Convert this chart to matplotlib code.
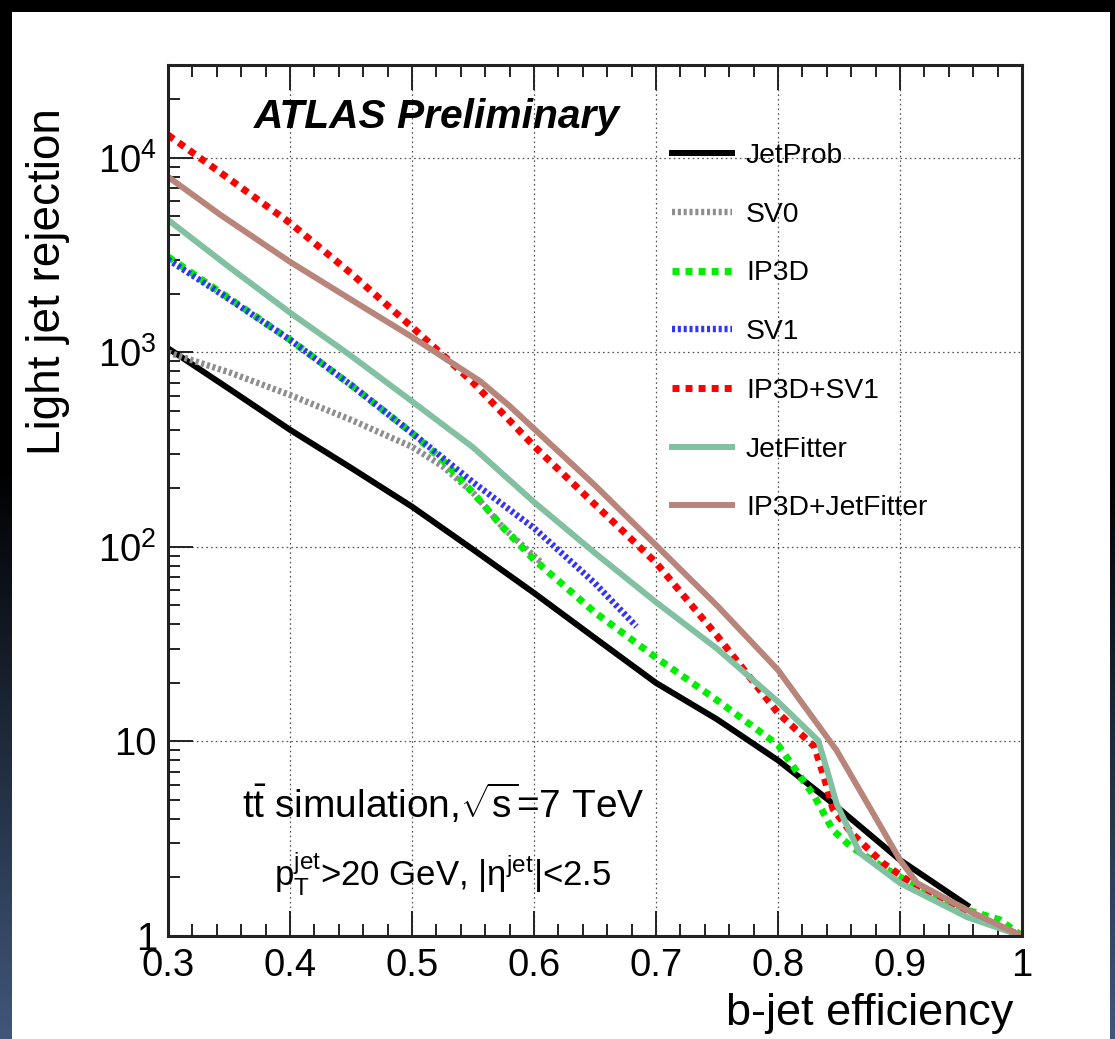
import numpy as np
import matplotlib
matplotlib.use('Agg')
import matplotlib.pyplot as plt
from matplotlib.patches import Rectangle
from matplotlib.ticker import FixedLocator, FixedFormatter, MultipleLocator, NullFormatter, LogLocator

plt.rcParams['font.family'] = ['Liberation Sans', 'DejaVu Sans']
plt.rcParams['mathtext.fontset'] = 'custom'
plt.rcParams['mathtext.rm'] = 'Liberation Sans'
plt.rcParams['mathtext.it'] = 'Liberation Sans:italic'
plt.rcParams['mathtext.bf'] = 'Liberation Sans:bold'
plt.rcParams['lines.scale_dashes'] = False

# b-jet efficiency vs light jet rejection
jetprob_x = [0.30, 0.35, 0.40, 0.45, 0.50, 0.55, 0.60, 0.65, 0.70, 0.75, 0.80, 0.845, 0.90, 0.955]
jetprob_y = [1050, 650, 400, 255, 161, 97, 58, 34, 20, 13, 8.0, 4.8, 2.46, 1.44]

sv0_x = [0.30, 0.35, 0.40, 0.45, 0.50, 0.525, 0.55, 0.575, 0.607]
sv0_y = [1000, 790, 604, 450, 327, 260, 190, 125, 82]

ip3d_x = [0.30, 0.35, 0.40, 0.45, 0.50, 0.525, 0.55, 0.575, 0.60, 0.65, 0.70, 0.75, 0.80,
          0.83, 0.845, 0.86, 0.886, 0.914, 0.955, 0.982, 1.0]
ip3d_y = [3100, 1900, 1160, 680, 385, 280, 190, 125, 86, 46, 27, 16.3, 9.6,
          5.2, 3.5, 2.87, 2.26, 1.79, 1.36, 1.21, 1.0]

sv1_x = [0.30, 0.35, 0.40, 0.45, 0.50, 0.55, 0.60, 0.65, 0.684]
sv1_y = [3000, 1880, 1160, 680, 385, 215, 125, 65, 39]

ip3dsv1_x = [0.30, 0.35, 0.40, 0.45, 0.50, 0.55, 0.60, 0.65, 0.70, 0.75, 0.80, 0.83,
             0.838, 0.845, 0.86, 0.886, 0.914, 0.955, 1.0]
ip3dsv1_y = [13100, 7800, 4630, 2550, 1350, 700, 330, 165, 83, 35, 14.0, 9.4,
             6.5, 4.5, 3.4, 2.37, 1.79, 1.31, 1.0]

jetfitter_x = [0.30, 0.35, 0.40, 0.45, 0.50, 0.55, 0.60, 0.65, 0.70, 0.75, 0.80, 0.833,
               0.840, 0.848, 0.867, 0.90, 0.955, 1.0]
jetfitter_y = [4800, 2750, 1600, 960, 560, 325, 170, 93, 52, 30, 16, 10.1,
               7.2, 4.8, 2.67, 1.87, 1.25, 1.0]

combo_x = [0.30, 0.343, 0.40, 0.457, 0.50, 0.556, 0.58, 0.60, 0.65, 0.70, 0.75, 0.80, 0.848,
           0.875, 0.90, 0.914, 0.955, 1.0]
combo_y = [7990, 5090, 2920, 1755, 1200, 710, 530, 405, 207, 102, 50, 23.3, 9.0,
           4.6, 2.46, 1.87, 1.36, 1.0]

x_ticks = [0.3, 0.4, 0.5, 0.6, 0.7, 0.8, 0.9, 1.0]
x_labels = ['0.3', '0.4', '0.5', '0.6', '0.7', '0.8', '0.9', '1']
y_ticks = [1, 10, 100, 1000, 10000]
y_labels = ['1', '10', r'$10^{2}$', r'$10^{3}$', r'$10^{4}$']

fig = plt.figure(figsize=(11.15, 10.39), dpi=100)

# dark frame with a blue-ish fade toward the bottom, white panel on top
bg = fig.add_axes([0, 0, 1, 1])
t = np.linspace(0, 1, 256)
fade = np.clip((t - 0.45) / 0.55, 0, 1)
grad = np.zeros((256, 1, 3))
grad[:, 0, 0] = 0.25 * fade
grad[:, 0, 1] = 0.34 * fade
grad[:, 0, 2] = 0.48 * fade
bg.imshow(grad, aspect='auto', extent=[0, 1, 0, 1], origin='upper')
bg.add_patch(Rectangle((12 / 1115, 0), (1110 - 12) / 1115, (1039 - 12) / 1039,
                       transform=bg.transAxes, facecolor='white', edgecolor='none'))
bg.set_xlim(0, 1)
bg.set_ylim(0, 1)
bg.axis('off')

ax = fig.add_axes([168 / 1115, 1 - 936 / 1039, (1022 - 168) / 1115, (936 - 65) / 1039])
ax.set_facecolor('white')

lw = 4.6
fine = (0, (2.2, 2.0))
coarse = (0, (5.0, 4.4))
ax.plot(jetprob_x, jetprob_y, color='black', lw=4.3, label='JetProb')
ax.plot(sv0_x, sv0_y, color='#8e8e8e', lw=lw, linestyle=fine, label='SV0')
ax.plot(ip3d_x, ip3d_y, color='#00ee00', lw=5.0, linestyle=coarse, label='IP3D')
ax.plot(sv1_x, sv1_y, color='#3333ff', lw=lw, linestyle=fine, label='SV1')
ax.plot(ip3dsv1_x, ip3dsv1_y, color='#ff0000', lw=5.0, linestyle=coarse, label='IP3D+SV1')
ax.plot(jetfitter_x, jetfitter_y, color='#82c0a2', lw=4.3, label='JetFitter')
ax.plot(combo_x, combo_y, color='#b9857b', lw=4.3, label='IP3D+JetFitter')

ax.set_yscale('log')
ax.set_xlim(0.3, 1.0)
ax.set_ylim(1, 3e4)

ax.xaxis.set_major_locator(FixedLocator(x_ticks))
ax.xaxis.set_major_formatter(FixedFormatter(x_labels))
ax.xaxis.set_minor_locator(MultipleLocator(0.02))
ax.yaxis.set_major_locator(FixedLocator(y_ticks))
ax.yaxis.set_major_formatter(FixedFormatter(y_labels))
ax.yaxis.set_minor_locator(LogLocator(base=10, subs=np.arange(2, 10)))
ax.yaxis.set_minor_formatter(NullFormatter())

ax.tick_params(which='both', direction='in', top=True, right=False, width=1.4,
               color='#222222', labelsize=27.5)
ax.tick_params(which='major', length=18)
ax.tick_params(which='minor', length=8.6)
ax.tick_params(axis='x', which='major', pad=9)
ax.tick_params(axis='y', which='major', pad=8)
for s in ax.spines.values():
    s.set_linewidth(2.2)
    s.set_color('#222222')

ax.grid(True, which='major', linestyle=(0, (1.2, 2.2)), color='#555555', lw=0.9)

ax.set_xlabel('b-jet efficiency', fontsize=32.5, ha='right', va='baseline')
ax.xaxis.set_label_coords((1013 - 168) / 854, (936 - 1025) / 871)
ax.set_ylabel('Light jet rejection', fontsize=33, ha='right', va='bottom')
ax.yaxis.set_label_coords((70 - 168) / 854, (936 - 108) / 871)

ax.text(0.1, 0.9277, 'ATLAS Preliminary', fontsize=29.3, fontweight='bold',
        fontstyle='italic', transform=ax.transAxes, va='baseline')
ax.text(0.322, 0.1355, r'$\mathrm{t\bar{t}}$ simulation,$\sqrt{\mathrm{s}}$=7 TeV',
        fontsize=28, ha='center', va='baseline', transform=ax.transAxes)
ax.text(0.322, 0.0563, r'$\mathrm{p_T^{jet}}$>20 GeV, $|\mathrm{η}^{\mathrm{jet}}|$<2.5',
        fontsize=25, ha='center', va='baseline', transform=ax.transAxes)

ax.legend(loc='upper left', bbox_to_anchor=(0.590, (936 - 143) / 871), frameon=False,
          fontsize=20.3, handlelength=2.13, handletextpad=0.5, borderpad=0,
          borderaxespad=0, labelspacing=1.16)

fig.savefig('out.png', dpi=100)
